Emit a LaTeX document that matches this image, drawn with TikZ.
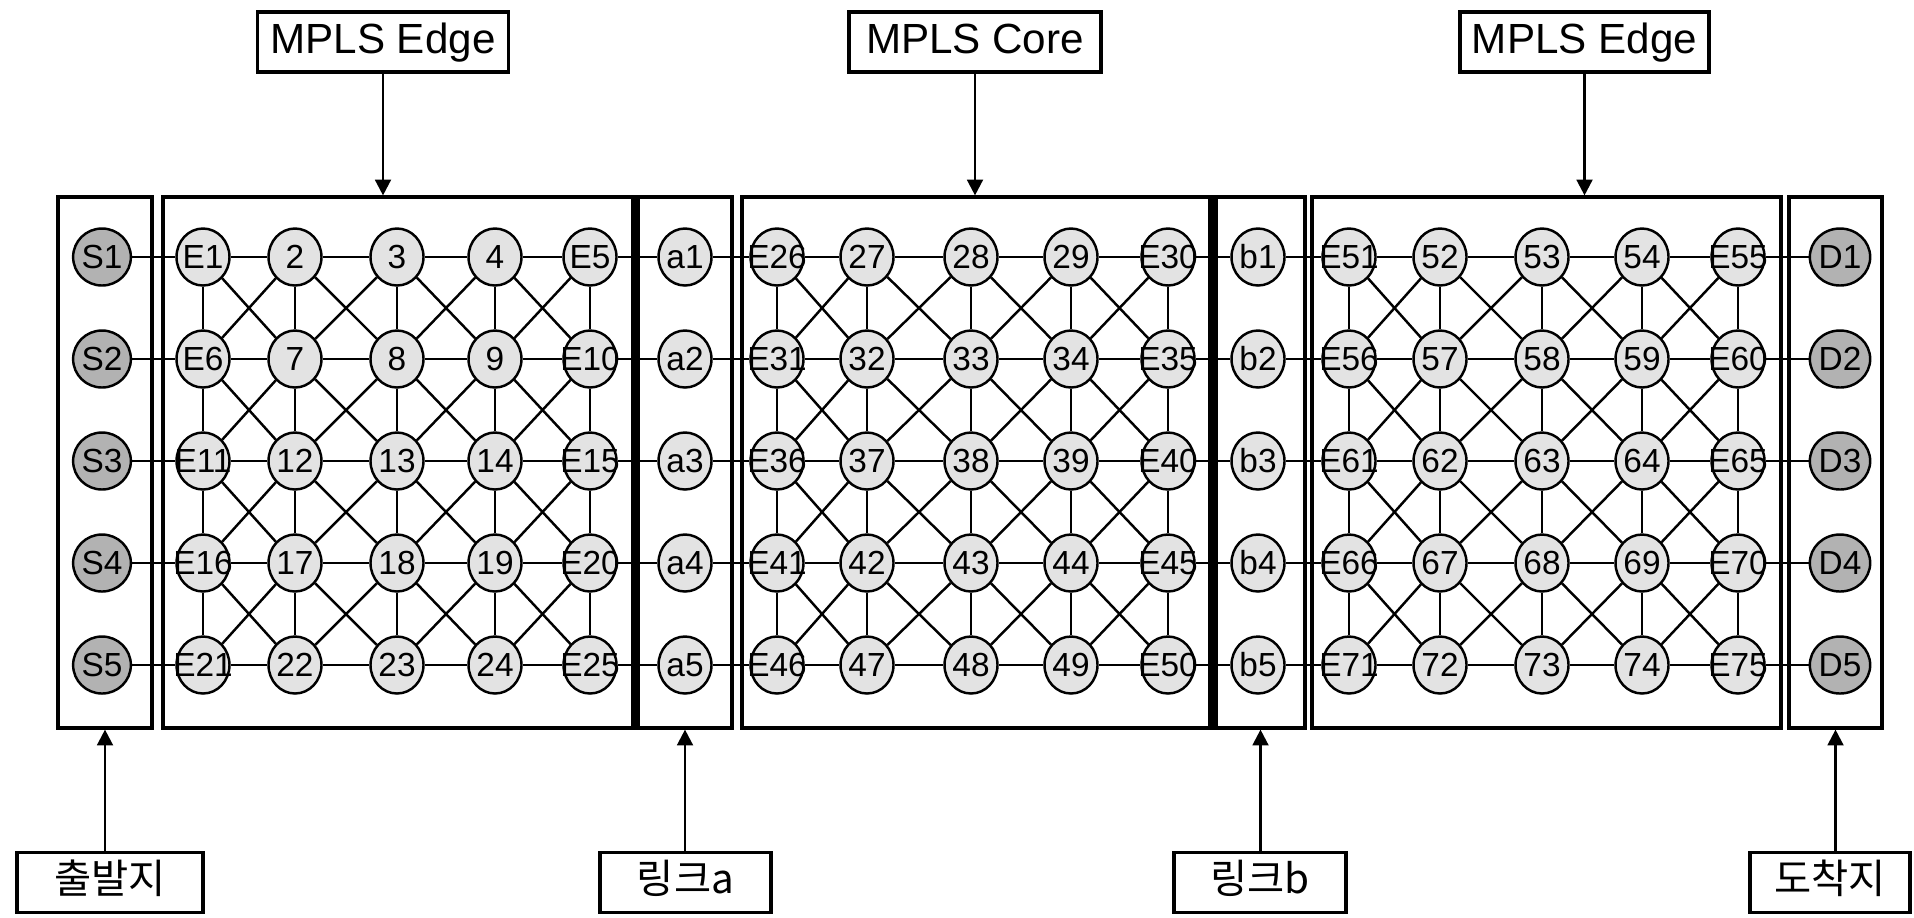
\documentclass[tikz,border=0pt]{standalone}
\usepackage{fontspec}
\setmainfont{Liberation Sans}
\newfontfamily\krfont{Noto Sans CJK KR}
\usetikzlibrary{arrows.meta,calc,shapes.geometric}

% 5x5 grid of routers: #1 = number offset, #2 = column positions
\newcommand{\mplsgrid}[2]{%
  \foreach \y [count=\r from 0] in {-2.57,-3.59,-4.61,-5.63,-6.65}
    \foreach \x [count=\c from 0] in {#2} {
      \pgfmathtruncatemacro\n{#1+5*\r+\c+1}
      \ifnum\c=0 \def\pre{E}\else\ifnum\c=4 \def\pre{E}\else\def\pre{}\fi\fi
      \node[router] (n\n) at (\x,\y) {\makebox[0pt]{\pre\n}};
    }
  % rows, columns and both diagonals of every cell
  \foreach \r in {0,...,4} \foreach \c in {0,...,3} {
    \pgfmathtruncatemacro\k{#1+5*\r+\c+1}
    \pgfmathtruncatemacro\kk{\k+1}
    \draw[link] (n\k) -- (n\kk);
  }
  \foreach \r in {0,...,3} \foreach \c in {0,...,4} {
    \pgfmathtruncatemacro\k{#1+5*\r+\c+1}
    \pgfmathtruncatemacro\kk{\k+5}
    \draw[link] (n\k) -- (n\kk);
  }
  \foreach \r in {0,...,3} \foreach \c in {0,...,3} {
    \pgfmathtruncatemacro\k{#1+5*\r+\c+1}
    \pgfmathtruncatemacro\kd{\k+6}
    \pgfmathtruncatemacro\kr{\k+1}
    \pgfmathtruncatemacro\kl{\k+5}
    \draw[link] (n\k) -- (n\kd);
    \draw[link] (n\kr) -- (n\kl);
  }
}

\begin{document}
\begin{tikzpicture}[
    router/.style={draw, line width=0.7pt, ellipse, fill=gray!22,
      minimum width=0.53cm, minimum height=0.57cm, inner sep=0pt,
      font=\fontsize{9.5}{9.5}\selectfont},
    host/.style={router, fill=gray!60},
    link/.style={line width=0.7pt},
    frame/.style={draw, line width=0.9pt, rectangle, inner sep=0pt, minimum height=5.31cm},
    tag/.style={draw, line width=0.9pt, rectangle, inner sep=0pt, minimum height=0.6cm,
      text height=9pt, text depth=2.5pt, font=\fontsize{12}{12}\selectfont},
    ktag/.style={tag, font=\krfont\fontsize{11.5}{11.5}\selectfont},
    arr/.style={line width=0.7pt, -{Triangle[length=4.5pt,width=4.5pt]}}
  ]
  \useasboundingbox (0,0) rectangle (19.14,-9.17);

  % boxes
  \node[frame, minimum width=0.94cm] (sbox) at (1.05,-4.625) {};
  \node[frame, minimum width=4.70cm] (g1box) at (3.98,-4.625) {};
  \node[frame, minimum width=0.94cm] (abox) at (6.85,-4.625) {};
  \node[frame, minimum width=4.68cm] (g2box) at (9.76,-4.625) {};
  \node[frame, minimum width=0.89cm] (boxb) at (12.605,-4.625) {};
  \node[frame, minimum width=4.69cm] (g3box) at (15.465,-4.625) {};
  \node[frame, minimum width=0.93cm] (dbox) at (18.355,-4.625) {};
  \draw[line width=2pt] (abox.north west) -- (abox.south west);
  \draw[line width=2pt] (g2box.north east) -- (g2box.south east);

  % routers
  \mplsgrid{0}{2.03,2.95,3.97,4.95,5.90}
  \mplsgrid{25}{7.77,8.67,9.71,10.71,11.68}
  \mplsgrid{50}{13.49,14.40,15.42,16.42,17.38}

  % sources, link nodes, destinations
  \foreach \y [count=\i] in {-2.57,-3.59,-4.61,-5.63,-6.65} {
    \pgfmathtruncatemacro\firstA{5*\i-4}
    \pgfmathtruncatemacro\lastA{5*\i}
    \pgfmathtruncatemacro\firstB{25+5*\i-4}
    \pgfmathtruncatemacro\lastB{25+5*\i}
    \pgfmathtruncatemacro\firstC{50+5*\i-4}
    \pgfmathtruncatemacro\lastC{50+5*\i}
    \node[host] (S\i) at (1.02,\y) {S\i};
    \node[router] (a\i) at (6.85,\y) {a\i};
    \node[router] (b\i) at (12.58,\y) {b\i};
    \node[host] (D\i) at (18.40,\y) {D\i};
    \draw[link] (S\i) -- (n\firstA);
    \draw[link] (n\lastA) -- (a\i);
    \draw[link] (a\i) -- (n\firstB);
    \draw[link] (n\lastB) -- (b\i);
    \draw[link] (b\i) -- (n\firstC);
    \draw[link] (n\lastC) -- (D\i);
  }

  % labels
  \node[tag, minimum width=2.51cm] (edgeL) at (3.83,-0.42) {MPLS Edge};
  \node[tag, minimum width=2.52cm] (core) at (9.75,-0.42) {MPLS Core};
  \node[tag, minimum width=2.49cm] (edgeR) at (15.845,-0.42) {MPLS Edge};
  \node[ktag, minimum width=1.86cm] (src) at (1.10,-8.825) {출발지};
  \node[ktag, minimum width=1.71cm] (linka) at (6.855,-8.825) {링크a};
  \node[ktag, minimum width=1.72cm] (linkb) at (12.60,-8.825) {링크b};
  \node[ktag, minimum width=1.60cm] (dst) at (18.30,-8.825) {도착지};

  \draw[arr] (edgeL.south) -- (edgeL.south |- g1box.north);
  \draw[arr] (core.south) -- (core.south |- g2box.north);
  \draw[arr] (edgeR.south) -- (edgeR.south |- g3box.north);
  \draw[arr] (sbox.south |- src.north) -- (sbox.south);
  \draw[arr] (abox.south |- linka.north) -- (abox.south);
  \draw[arr] (boxb.south |- linkb.north) -- (boxb.south);
  \draw[arr] (dbox.south |- dst.north) -- (dbox.south);
\end{tikzpicture}
\end{document}
